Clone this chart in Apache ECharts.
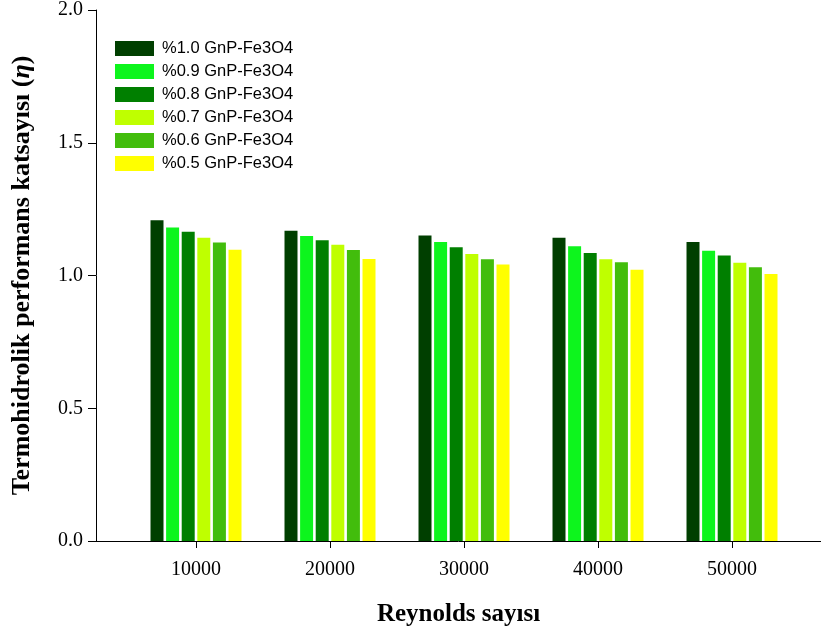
<!DOCTYPE html>
<html>
<head>
<meta charset="utf-8">
<script src="https://cdn.jsdelivr.net/npm/echarts@6/dist/echarts.min.js"></script>
<style>
  html, body { margin: 0; padding: 0; background: #ffffff; }
  #chart { width: 821px; height: 633px; }
</style>
</head>
<body>
<div id="chart"></div>
<script>
// Reynolds sayısı
var reynolds = [10000, 20000, 30000, 40000, 50000];

// seri isimleri ve değerleri
var seriesNames = ['%1.0 GnP-Fe3O4', '%0.9 GnP-Fe3O4', '%0.8 GnP-Fe3O4',
                   '%0.7 GnP-Fe3O4', '%0.6 GnP-Fe3O4', '%0.5 GnP-Fe3O4'];
var gnp10 = [1.208, 1.169, 1.151, 1.142, 1.126];
var gnp09 = [1.181, 1.149, 1.126, 1.110, 1.093];
var gnp08 = [1.165, 1.133, 1.106, 1.085, 1.075];
var gnp07 = [1.142, 1.116, 1.081, 1.061, 1.048];
var gnp06 = [1.124, 1.096, 1.061, 1.050, 1.031];
var gnp05 = [1.097, 1.062, 1.041, 1.022, 1.006];

var colors = ['#003f00', '#0df51d', '#007f00', '#bfff00', '#42bd0c', '#ffff00'];
var allValues = [gnp10, gnp09, gnp08, gnp07, gnp06, gnp05];

var chart = echarts.init(document.getElementById('chart'));

var serif = '"Liberation Serif", "Times New Roman", serif';

var option = {
  backgroundColor: '#ffffff',
  animation: false,
  color: colors,
  legend: {
    orient: 'vertical',
    left: 115,
    top: 40,
    padding: 0,
    itemWidth: 39,
    itemHeight: 15,
    itemGap: 6,
    icon: 'rect',
    data: seriesNames,
    textStyle: {
      fontFamily: '"Liberation Sans", Arial, sans-serif',
      fontSize: 16.5,
      color: '#000000',
      padding: [0, 0, 0, 3]
    }
  },
  grid: {
    left: 96,
    right: 0,
    top: 10,
    bottom: 92,
    containLabel: false
  },
  xAxis: {
    type: 'value',
    min: 2537,
    max: 56641,
    name: 'Reynolds sayısı',
    nameLocation: 'middle',
    nameGap: 61,
    nameTextStyle: {
      fontFamily: serif,
      fontSize: 25,
      fontWeight: 'bold',
      color: '#000000'
    },
    splitLine: { show: false },
    axisLine: { lineStyle: { color: '#000000', width: 1 } },
    axisTick: {
      show: true,
      length: 7,
      customValues: reynolds,
      lineStyle: { color: '#000000' }
    },
    axisLabel: {
      customValues: reynolds,
      margin: 19,
      fontFamily: serif,
      fontSize: 20,
      color: '#000000',
      formatter: function (v) { return String(v); }
    }
  },
  yAxis: {
    type: 'value',
    min: 0,
    max: 2,
    interval: 0.5,
    name: 'Termohidrolik performans katsayısı ({i|η})',
    nameLocation: 'middle',
    nameRotate: 90,
    nameGap: 61,
    nameTextStyle: {
      fontFamily: serif,
      fontSize: 26,
      fontWeight: 'bold',
      color: '#000000',
      rich: {
        i: {
          fontFamily: serif,
          fontSize: 26,
          fontWeight: 'bold',
          fontStyle: 'italic',
          color: '#000000'
        }
      }
    },
    splitLine: { show: false },
    axisLine: { show: true, lineStyle: { color: '#000000', width: 1 } },
    axisTick: { show: true, length: 8, lineStyle: { color: '#000000' } },
    axisLabel: {
      margin: 13,
      fontFamily: serif,
      fontSize: 20,
      color: '#000000',
      formatter: function (v) { return v.toFixed(1); }
    }
  },
  series: seriesNames.map(function (name, i) {
    return {
      name: name,
      type: 'bar',
      barWidth: 13,
      barGap: '20%',
      data: reynolds.map(function (re, j) { return [re, allValues[i][j]]; }),
      itemStyle: { color: colors[i] }
    };
  })
};

chart.setOption(option);
</script>
</body>
</html>
